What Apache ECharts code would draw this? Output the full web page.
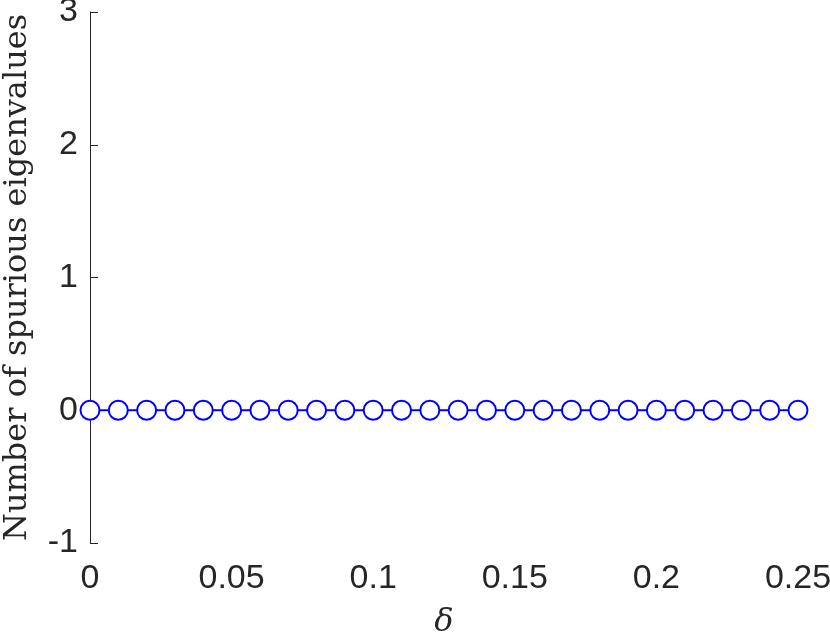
<!DOCTYPE html>
<html>
<head>
<meta charset="utf-8">
<script src="https://cdn.jsdelivr.net/npm/echarts@6/dist/echarts.min.js"></script>
<style>
  html, body { margin: 0; padding: 0; background: #fff; }
  #chart { width: 830px; height: 635px; }
</style>
</head>
<body>
<div id="chart"></div>
<script>
// delta values (x)
const deltaValues = [0, 0.01, 0.02, 0.03, 0.04, 0.05, 0.06, 0.07, 0.08, 0.09,
  0.1, 0.11, 0.12, 0.13, 0.14, 0.15, 0.16, 0.17, 0.18, 0.19,
  0.2, 0.21, 0.22, 0.23, 0.24, 0.25]
// number of spurious eigenvalues (y)
const spuriousCounts = [0, 0, 0, 0, 0, 0, 0, 0, 0, 0,
  0, 0, 0, 0, 0, 0, 0, 0, 0, 0,
  0, 0, 0, 0, 0, 0]
const xTicks = [0, 0.05, 0.1, 0.15, 0.2, 0.25]
const yTicks = [-1, 0, 1, 2, 3]

const axisColor = '#262626'
const tickFont = 'Liberation Sans, Arial, sans-serif'
const serifFont = 'DejaVu Serif, serif'

const chart = echarts.init(document.getElementById('chart'))

const option = {
  animation: false,
  backgroundColor: '#fff',
  grid: {
    left: 90,
    right: 32,
    top: 12,
    bottom: 92,
    containLabel: false,
    outerBoundsMode: 'none',
  },
  xAxis: {
    type: 'value',
    min: xTicks[0],
    max: xTicks[xTicks.length - 1],
    interval: 0.05,
    name: 'δ',
    nameLocation: 'middle',
    nameGap: 64,
    nameTextStyle: {
      fontFamily: serifFont,
      fontStyle: 'italic',
      fontSize: 32,
      color: axisColor,
    },
    axisLine: { lineStyle: { color: axisColor, width: 1 } },
    axisTick: { inside: true, length: 8, lineStyle: { color: axisColor } },
    axisLabel: {
      color: axisColor,
      fontFamily: tickFont,
      fontSize: 34,
      margin: 19,
      showMaxLabel: true,
      hideOverlap: false,
      formatter: (v) => String(parseFloat(v.toFixed(2))),
    },
    splitLine: { show: false },
  },
  yAxis: {
    type: 'value',
    min: yTicks[0],
    max: yTicks[yTicks.length - 1],
    interval: 1,
    name: 'Number of spurious eigenvalues',
    nameLocation: 'middle',
    nameGap: 56,
    nameRotate: 90,
    nameTextStyle: {
      fontFamily: serifFont,
      fontSize: 32,
      color: axisColor,
    },
    axisLine: { show: true, lineStyle: { color: axisColor, width: 1 } },
    axisTick: { show: true, inside: true, length: 8, lineStyle: { color: axisColor } },
    axisLabel: {
      color: axisColor,
      fontFamily: tickFont,
      fontSize: 34,
      margin: 12,
    },
    splitLine: { show: false },
  },
  series: [
    {
      type: 'line',
      data: deltaValues.map((d, i) => [d, spuriousCounts[i]]),
      symbol: 'circle',
      symbolSize: 19,
      lineStyle: { color: '#0000ff', width: 2 },
      itemStyle: { color: '#ffffff', borderColor: '#0000ff', borderWidth: 2 },
      z: 3,
    },
  ],
}

chart.setOption(option)
</script>
</body>
</html>
